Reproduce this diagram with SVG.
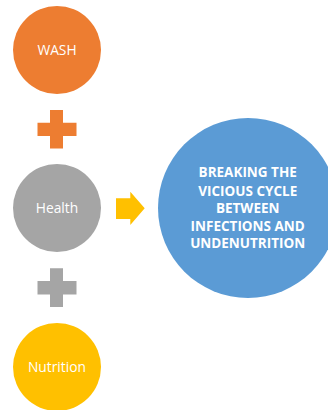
<svg xmlns="http://www.w3.org/2000/svg" width="328" height="410" viewBox="0 0 328 410">
<style>
text{font-family:"Open Sans","Noto Sans","Liberation Sans",sans-serif;fill:#fff;text-anchor:middle}
.s{font-size:13.8px}
.b{font-size:13.5px;font-weight:700}
</style>
<rect width="328" height="410" fill="#fff"/>
<g id="wash"><circle cx="57" cy="50" r="44" fill="#ed7d31"/><text class="s" x="57" y="55">WASH</text></g>
<g id="plus-orange"><path d="M50 110H63V122.700H76.500V136H63V148.500H50V136H37.500V122.700H50Z" fill="#ed7d31"/></g>
<g id="health"><circle cx="57" cy="208" r="44" fill="#a5a5a5"/><text class="s" x="57" y="213">Health</text></g>
<g id="plus-gray"><path d="M50 268.300H63V281H76.500V294.500H63V307H50V294.500H37.500V281H50Z" fill="#a5a5a5"/></g>
<g id="nutrition"><circle cx="57" cy="367" r="44" fill="#ffc000"/><text class="s" x="57" y="371.700">Nutrition</text></g>
<g id="connectors"><path d="M116 198.300H130.300V191.700L144.700 208.300L130.300 225V219H116Z" fill="#ffc000"/></g>
<g id="goal"><circle cx="248" cy="208" r="90" fill="#5b9bd5"/>
<text class="b" x="247.700" y="177.300">BREAKING THE</text>
<text class="b" x="247.700" y="195.500">VICIOUS CYCLE</text>
<text class="b" x="247.700" y="212.800">BETWEEN</text>
<text class="b" x="247.700" y="230.500">INFECTIONS AND</text>
<text class="b" x="247.700" y="248">UNDENUTRITION</text></g>
</svg>
